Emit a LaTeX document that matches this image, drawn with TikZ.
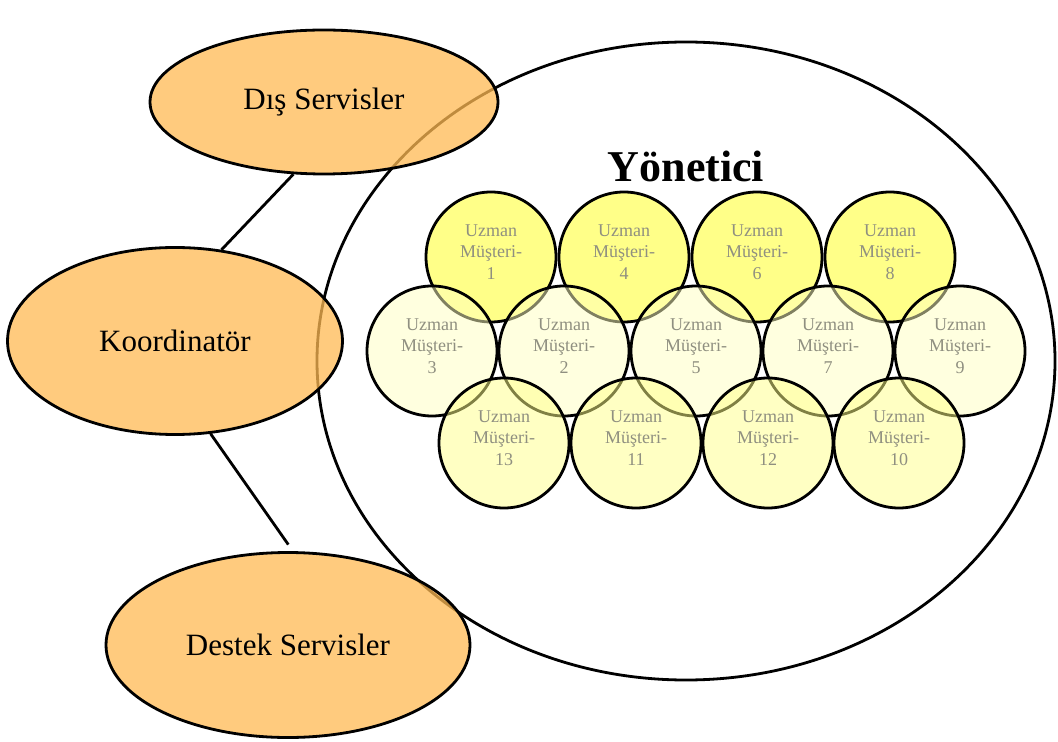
\documentclass[tikz,border=0pt]{standalone}
\usepackage{fontspec}
\setmainfont{Liberation Serif}
\usetikzlibrary{shapes.geometric}

\definecolor{orangefill}{HTML}{FFBA53}
\definecolor{brightyellow}{HTML}{FFFF88}
\definecolor{paleyellow}{HTML}{FFFFC0}
\definecolor{labelgray}{HTML}{8F8F80}

\tikzset{
  outline/.style={draw=black, line width=1.4pt},
  role/.style={ellipse, outline, fill=orangefill, fill opacity=0.75, text opacity=1,
    inner sep=0pt, font=\fontsize{15.5}{18}\selectfont},
  member/.style={circle, outline, minimum size=65pt, inner sep=0pt},
  toprow/.style={member, fill=brightyellow},
  midrow/.style={member, fill=paleyellow, fill opacity=0.5},
  lowrow/.style={member, fill=brightyellow, fill opacity=0.5},
  memberlabel/.style={align=center, text=labelgray, inner sep=0pt,
    font=\fontsize{9}{10.75}\selectfont},
  link/.style={draw=black, line width=1.4pt},
}

% one expert circle with its three-line label: style, name, x, y, number
\newcommand{\placeexpert}[5]{%
  \node[#1] (#2) at (#3,#4) {};
  \node[memberlabel] (#2-text) at ([yshift=2.5pt]#2.center) {Uzman\\Müşteri-\\#5};
}

\begin{document}
\begin{tikzpicture}[x=0.5pt, y=-0.5pt]
  \useasboundingbox (0,0) rectangle (1058,742);

  % manager area
  \node[ellipse, outline, fill=white, minimum width=369pt, minimum height=319pt, inner sep=0pt]
    (manager) at (686,361) {};
  \node[font=\bfseries\fontsize{22}{26}\selectfont, anchor=base] (title) at (686,182) {Yönetici};

  % roles around the manager
  \node[role, minimum width=174pt, minimum height=72pt] (dis) at (324,102) {Dış Servisler};
  \node[role, minimum width=167.5pt, minimum height=93.5pt] (koord) at (175,341) {Koordinatör};
  \node[role, minimum width=182pt, minimum height=92.5pt] (destek) at (288,645) {Destek Servisler};

  \draw[link] (dis.247) -- (koord.63);
  \draw[link, shorten >=4pt] (koord.291) -- (destek.87);

  % expert circles, drawn row by row so later rows show earlier ones through
  \placeexpert{toprow}{e1}{491}{257}{1}
  \placeexpert{toprow}{e4}{624}{257}{4}
  \placeexpert{toprow}{e6}{757}{257}{6}
  \placeexpert{toprow}{e8}{890}{257}{8}

  \placeexpert{midrow}{e3}{432}{351}{3}
  \placeexpert{midrow}{e2}{564}{351}{2}
  \placeexpert{midrow}{e5}{696}{351}{5}
  \placeexpert{midrow}{e7}{828}{351}{7}
  \placeexpert{midrow}{e9}{960}{351}{9}

  \placeexpert{lowrow}{e13}{504}{443}{13}
  \placeexpert{lowrow}{e11}{636}{443}{11}
  \placeexpert{lowrow}{e12}{768}{443}{12}
  \placeexpert{lowrow}{e10}{899}{443}{10}
\end{tikzpicture}
\end{document}
